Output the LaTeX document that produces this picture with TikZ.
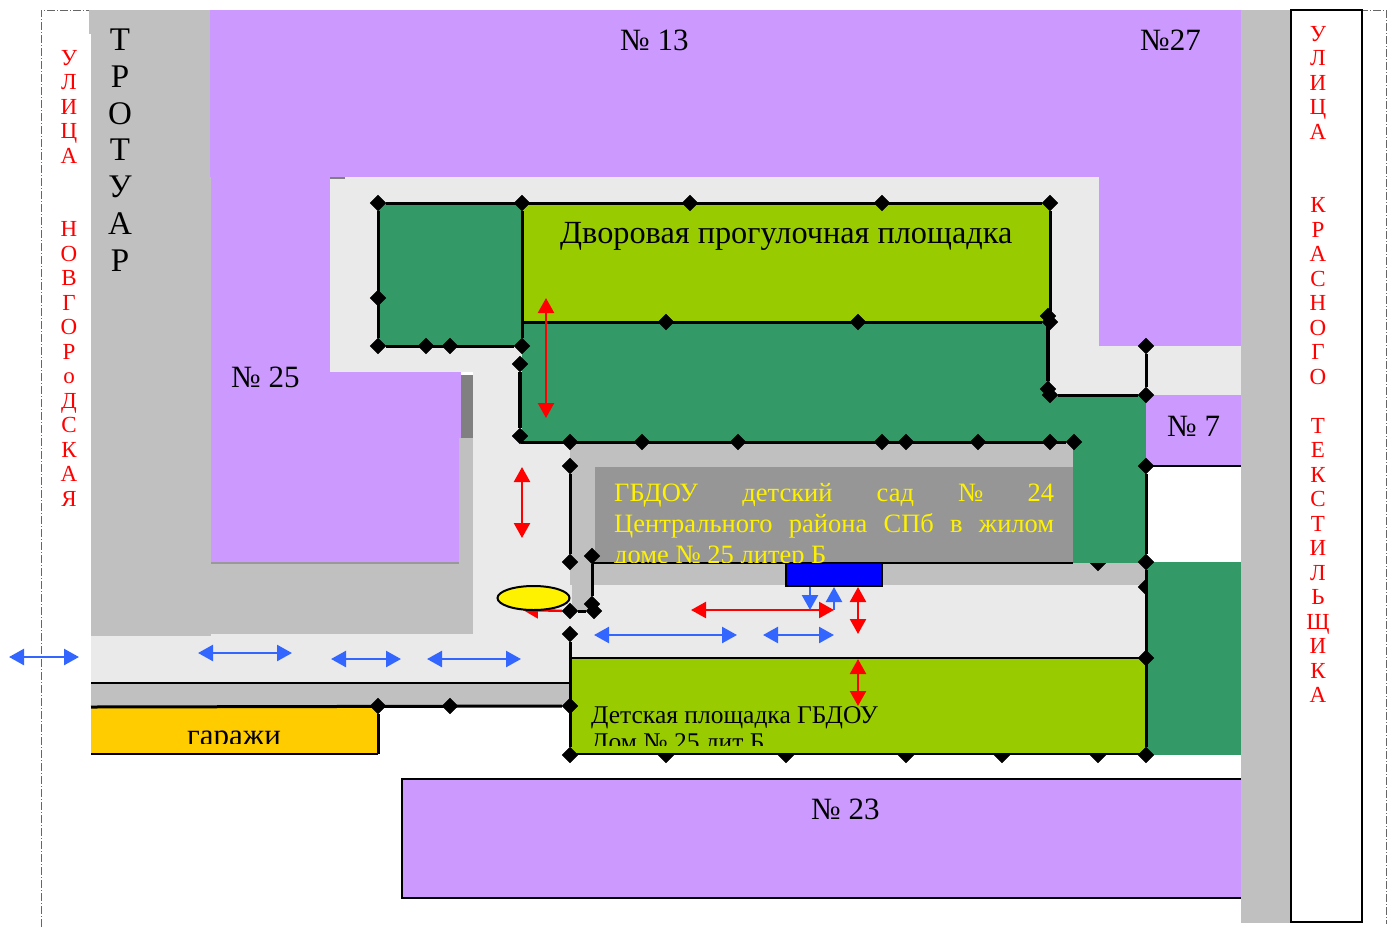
\documentclass[tikz,border=0pt]{standalone}
\usepackage{fontspec}
\setmainfont{Liberation Serif}
\usepackage{tikz}
\usetikzlibrary{positioning,arrows.meta,shapes.geometric}
\definecolor{houseCol}{HTML}{CC99FF}
\definecolor{pavedCol}{HTML}{C0C0C0}
\definecolor{yardCol}{HTML}{EAEAEA}
\definecolor{treeCol}{HTML}{339966}
\definecolor{grassCol}{HTML}{99CC00}
\definecolor{garageCol}{HTML}{FFCC00}
\definecolor{schoolCol}{HTML}{969696}
\definecolor{walkCol}{HTML}{3366FF}

\begin{document}
\begin{tikzpicture}[
    x=1pt,
    y=-1pt,
    post/.style={%
      draw,
      diamond,
      fill=black,
      inner sep=0pt,
      minimum size=16pt,
    },
    fence/.style={%
      draw=black,
      line width=3pt,
    },
    redWay/.style={%
      draw=red,
      line width=2.4pt,
      {Triangle[width=16pt,length=15pt]}-{Triangle[width=16pt,length=15pt]},
    },
    blueWay/.style={%
      draw=walkCol,
      line width=2.4pt,
      {Triangle[width=16pt,length=15pt]}-{Triangle[width=16pt,length=15pt]},
    },
    oneWay/.style={%
      draw=walkCol,
      line width=2.4pt,
      -{Triangle[width=16pt,length=15pt]},
    },
    label/.style={%
      anchor=base west,
      inner sep=0pt,
      font=\fontsize{31}{33}\selectfont,
    },
    street/.style={%
      anchor=north,
      inner sep=0pt,
      align=center,
      text=red,
      font=\fontsize{23}{24.5}\selectfont,
    },
  ]

    \useasboundingbox (0,0) rectangle (1394,927);

    % plot border
    \draw [black!60,dash pattern=on 8pt off 2pt on 1pt off 2pt,line width=0.8pt]
      (41,927) -- (41,10) -- (1386,10) -- (1386,924);

    % ground
    \fill [houseCol] (210,10) rectangle (1241,346);
    \fill [houseCol] (211,177) rectangle (461,563);
    \fill [yardCol] (330,177) rectangle (1099,372);
    \fill [yardCol] (1050,346) rectangle (1241,395);
    \fill [yardCol] (473,372) rectangle (570,683);
    \fill [yardCol] (91,634) rectangle (570,683);
    \fill [yardCol] (570,585) rectangle (1146,658);
    \fill [white] (461,372) rectangle (473,375);
    \fill [pavedCol] (89,10) rectangle (210,34);
    \fill [pavedCol] (91,34) rectangle (210,177);
    \fill [pavedCol] (91,177) rectangle (211,636);
    \fill [pavedCol] (211,563) rectangle (473,634);
    \fill [pavedCol] (459,438) rectangle (473,563);
    \fill [black!50] (461,375) rectangle (473,438);
    \fill [black!50] (330,177) rectangle (345,178.5);
    \fill [black!40] (211,562) rectangle (459,564);
    \fill [pavedCol] (91,683) rectangle (570,707);
    \fill [pavedCol] (570,442) rectangle (1146,467);
    \fill [pavedCol] (570,467) rectangle (595,585);
    \fill [pavedCol] (572,585) rectangle (592,610);
    \fill [pavedCol] (595,563) rectangle (1146,585);
    \fill [pavedCol] (1241,10) rectangle (1291,923);
    \draw [black,line width=2pt,fill=white] (1291,10) rectangle (1362,922);
    \fill [houseCol] (1146,395) rectangle (1241,466);

    % posts half under the plantings
    \node [post] (H) at (1098,563) {};
    \node [post] (T) at (1146,587) {};
    \node [post] (Ha) at (522,322) {};
    \path (Ha) ++(144,0) node [post] (Hb) {};
    \path (Hb) ++(192,0) node [post] (Hc) {};
    \node [post] (Ga) at (666,755) {};
    \path (Ga) ++(120,0) node [post] (Gb) {};
    \path (Gb) ++(120,0) node [post] (Gc) {};
    \path (Gc) ++(96,0) node [post] (Gd) {};
    \path (Gd) ++(96,0) node [post] (Ge) {};

    % plantings
    \fill [treeCol] (378,203) rectangle (522,346);
    \fill [treeCol] (522,322) rectangle (1050,442);
    \fill [treeCol] (1050,395) rectangle (1146,442);
    \fill [treeCol] (1073,442) rectangle (1146,563);
    \fill [treeCol] (1146,562) rectangle (1241,755);
    \fill [grassCol] (522,203) rectangle (1050,322);
    \node [post] at (Hb) {};
    \node [post] at (Hc) {};
    \fill [garageCol] (91,707) rectangle (378,754);
    \fill [schoolCol] (595,467) rectangle (1073,563);
    \fill [grassCol] (570,658) rectangle (1146,754);
    \fill [houseCol] (402,779) rectangle (1241,898);
    \draw [black,line width=2pt] (1241,779) -- (402,779) -- (402,898) -- (1241,898);
    \draw [black,line width=2pt] (91,754) -- (378,754);
    \draw [black,line width=2pt] (1146,466) -- (1241,466);
    \draw [black,line width=2pt] (91,683) -- (570,683);
    \draw [black,line width=2pt] (570,658) -- (1146,658);
    \draw [black,line width=2.4pt] (570,754) -- (1146,754);
    \draw [black,line width=2pt] (592,563) -- (1073,563);

    % posts
    \node [post] (A) at (378,203) {};
    \path (A) ++(144,0) node [post] (B) {};
    \path (B) ++(168,0) node [post] (C) {};
    \path (C) ++(192,0) node [post] (D) {};
    \path (D) ++(168,0) node [post] (E) {};
    \path (A) ++(0,95) node [post] (F) {};
    \path (F) ++(0,48) node [post] (G) {};
    \path (G) ++(48,0) node [post] (I) {};
    \path (I) ++(24,0) node [post] (J) {};
    \path (J) ++(72,0) node [post] (K) {};
    \node [post] (L) at (1048,316) {};
    \node [post] (M) at (1050,322) {};
    \node [post] (N) at (1048,389) {};
    \node [post] (O) at (1050,395) {};
    \path (O) ++(96,0) node [post] (P) {};
    \path (P) ++(0,-49) node [post] (Q) {};
    \path (P) ++(0,71) node [post] (R) {};
    \path (R) ++(0,96) node [post] (S) {};
    \node [post] (U) at (1146,658) {};
    \node [post] (V) at (1146,755) {};
    \node [post] (La) at (520,364) {};
    \node [post] (Lb) at (520,436) {};
    \coordinate (Lc) at (521,442);
    \node [post] (Ma) at (570,442) {};
    \path (Ma) ++(72,0) node [post] (Mb) {};
    \path (Mb) ++(96,0) node [post] (Mc) {};
    \path (Mc) ++(144,0) node [post] (Md) {};
    \path (Md) ++(24,0) node [post] (Me) {};
    \path (Me) ++(72,0) node [post] (Mf) {};
    \path (Mf) ++(72,0) node [post] (Mg) {};
    \path (Mg) ++(24,0) node [post] (Mh) {};
    \node [post] (Na) at (570,466) {};
    \path (Na) ++(0,96) node [post] (Nb) {};
    \node [post] (Nc) at (592,556) {};
    \node [post] (Nd) at (592,604) {};
    \node [post] (Ne) at (594,611) {};
    \node [post] (Nf) at (570,611) {};
    \node [post] (Pa) at (570,634) {};
    \node [post] (Pb) at (570,706) {};
    \node [post] (Pc) at (570,755) {};
    \node [post] (Ra) at (378,706) {};
    \node [post] (Rb) at (450,706) {};
    \coordinate (Rc) at (91,707);
    \coordinate (Rd) at (378,754);

    % fences
    \draw [fence] (A) -- (E) -- (M);
    \draw [fence] (A) -- (G) -- (K);
    \draw [fence] (B) -- (K);
    \draw [fence] (Ha.center) -- (M);
    \draw [fence,line width=4pt] (L) -- (N);
    \draw [fence] (O) -- (P);
    \draw [fence] (Q) -- (P);
    \draw [fence] (R) -- (S) -- (V);
    \draw [fence,line width=4pt] (La) -- (Lb);
    \draw [fence] (Lc) -- (Mh);
    \draw [fence] (Na) -- (Nb);
    \draw [fence] (Nc) -- (Nd);
    \draw [fence] (Nf) -- (Ne);
    \draw [fence] (Pa) -- (Pc);
    \draw [fence] (Rc) -- (Pb);
    \draw [fence] (Ra) -- (Rd);

    % entrance and the ways
    \coordinate (ra) at (546,298);
    \coordinate (rb) at (546,418);
    \coordinate (rc) at (522,467);
    \coordinate (rd) at (522,538);
    \coordinate (re) at (691,610);
    \coordinate (rf) at (834,610);
    \coordinate (rg) at (858,587);
    \coordinate (rh) at (858,634);
    \coordinate (ri) at (858,659);
    \coordinate (rj) at (858,706);
    \coordinate (rk) at (523,610);
    \draw [redWay] (ra) -- (rb);
    \draw [redWay] (rc) -- (rd);
    \draw [redWay] (re) -- (rf);
    \draw [redWay] (rg) -- (rh);
    \draw [redWay] (ri) -- (rj);
    \draw [draw=red,line width=2.4pt,-{Triangle[width=16pt,length=15pt]}] (Nf) -- (rk);

    \coordinate (ba) at (9,657);
    \coordinate (bb) at (79,657);
    \coordinate (bc) at (198,653);
    \coordinate (bd) at (292,653);
    \coordinate (be) at (331,659);
    \coordinate (bf) at (401,659);
    \coordinate (bg) at (427,659);
    \coordinate (bh) at (521,659);
    \coordinate (bi) at (594,635);
    \coordinate (bj) at (737,635);
    \coordinate (bk) at (763,635);
    \coordinate (bl) at (834,635);
    \coordinate (bm) at (810,587);
    \coordinate (bn) at (810,610);
    \coordinate (bo) at (834,610);
    \coordinate (bp) at (834,587);
    \draw [blueWay] (ba) -- (bb);
    \draw [blueWay] (bc) -- (bd);
    \draw [blueWay] (be) -- (bf);
    \draw [blueWay] (bg) -- (bh);
    \draw [blueWay] (bi) -- (bj);
    \draw [blueWay] (bk) -- (bl);
    \draw [oneWay] (bm) -- (bn);
    \draw [oneWay] (bo) -- (bp);

    \node [draw=black,line width=2pt,fill=blue,inner sep=0pt,
      minimum width=96pt,minimum height=23pt] (door) at (834,574.5) {};
    \node [draw=black,line width=2pt,fill=yellow,ellipse,inner sep=0pt,
      minimum width=72pt,minimum height=24pt] (gate) at (533.5,598) {};

    % labels
    \node [label] (n13) at (620,50) {№ 13};
    \node [label] (n27) at (1140,50) {№27};
    \node [label] (n25) at (231,387) {№ 25};
    \node [label] (n7) at (1167,436) {№ 7};
    \node [label] (n23) at (811,819) {№ 23};
    \node [label,font=\fontsize{32.3}{34}\selectfont] (yard) at (560,243)
      {Дворовая прогулочная площадка};
    \node [anchor=north,inner sep=0pt,align=center,
      font=\fontsize{33}{36.7}\selectfont] (walk) at (120,29)
      {Т\\Р\\О\\Т\\У\\А\\Р};
    \node [street] (west) at (69,50)
      {У\\Л\\И\\Ц\\А\\~\\~\\Н\\О\\В\\Г\\О\\Р\\о\\Д\\С\\К\\А\\Я};
    \node [street] (east) at (1318,26)
      {У\\Л\\И\\Ц\\А\\~\\~\\К\\Р\\А\\С\\Н\\О\\Г\\О\\~\\Т\\Е\\К\\С\\Т\\И\\Л\\Ь\\Щ\\И\\К\\А};
    \begin{scope}
      \clip (595,467) rectangle (1073,562);
      \node [anchor=north west,inner sep=0pt,text width=440pt,align=justify,
        text=yellow,font=\fontsize{26.5}{31}\selectfont] (school) at (614,483)
        {ГБДОУ детский сад № 24\linebreak
         Центрального района СПб в жилом\linebreak
         доме № 25 литер Б};
    \end{scope}
    \begin{scope}
      \clip (570,658) rectangle (1146,745);
      \node [anchor=north west,inner sep=0pt,align=left,
        font=\fontsize{25.5}{27}\selectfont] (play) at (591,706)
        {Детская площадка ГБДОУ\\Дом № 25 лит Б};
    \end{scope}
    \begin{scope}
      \clip (91,707) rectangle (378,743);
      \node [anchor=base,inner sep=0pt,font=\fontsize{31}{33}\selectfont]
        (garage) at (234,745) {гаражи};
    \end{scope}
\end{tikzpicture}
\end{document}
